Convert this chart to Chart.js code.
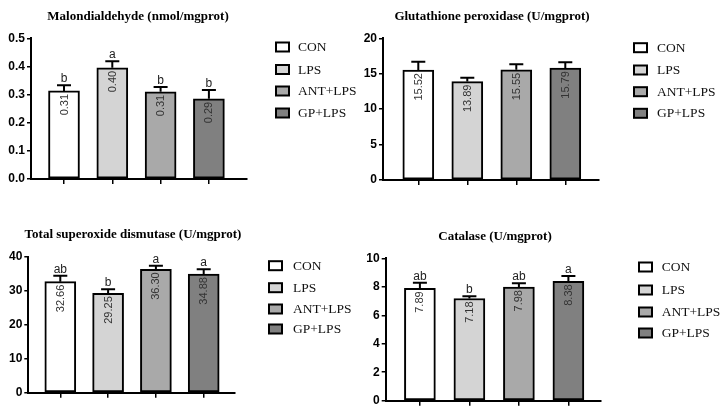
<!DOCTYPE html>
<html>
<head>
<meta charset="utf-8">
<script src="https://cdn.jsdelivr.net/npm/chart.js@4.4.1/dist/chart.umd.min.js"></script>
<style>
  html, body { margin: 0; padding: 0; background: #ffffff; }
  #wrap { position: relative; width: 728px; height: 415px; overflow: hidden; }
  .panel { position: absolute; }
</style>
</head>
<body>
<div id="wrap">
  <div class="panel" style="left:0px;top:0px;"><canvas id="c1" width="364" height="208"></canvas></div>
  <div class="panel" style="left:364px;top:0px;"><canvas id="c2" width="364" height="208"></canvas></div>
  <div class="panel" style="left:0px;top:208px;"><canvas id="c3" width="364" height="207"></canvas></div>
  <div class="panel" style="left:364px;top:208px;"><canvas id="c4" width="364" height="207"></canvas></div>
</div>
<script>
// ---------------- DATA ----------------
const groups = ['CON', 'LPS', 'ANT+LPS', 'GP+LPS'];
const groupColors = ['#ffffff', '#d4d4d4', '#a9a9a9', '#808080'];

const mdaTitle = 'Malondialdehyde (nmol/mgprot)';
const mdaValues = [0.313, 0.395, 0.310, 0.285];
const mdaErrors = [0.020, 0.023, 0.017, 0.031];
const mdaLabels = ['0.31', '0.40', '0.31', '0.29'];
const mdaLetters = ['b', 'a', 'b', 'b'];
const mdaTicks = [0.0, 0.1, 0.2, 0.3, 0.4, 0.5];

const gpxTitle = 'Glutathione peroxidase (U/mgprot)';
const gpxValues = [15.52, 13.89, 15.55, 15.79];
const gpxErrors = [1.18, 0.55, 0.78, 0.82];
const gpxLabels = ['15.52', '13.89', '15.55', '15.79'];
const gpxLetters = ['', '', '', ''];
const gpxTicks = [0, 5, 10, 15, 20];

const sodTitle = 'Total superoxide dismutase (U/mgprot)';
const sodValues = [32.66, 29.25, 36.30, 34.88];
const sodErrors = [1.75, 1.16, 1.05, 1.41];
const sodLabels = ['32.66', '29.25', '36.30', '34.88'];
const sodLetters = ['ab', 'b', 'a', 'a'];
const sodTicks = [0, 10, 20, 30, 40];

const catTitle = 'Catalase (U/mgprot)';
const catValues = [7.89, 7.18, 7.98, 8.38];
const catErrors = [0.40, 0.15, 0.26, 0.38];
const catLabels = ['7.89', '7.18', '7.98', '8.38'];
const catLetters = ['ab', 'b', 'ab', 'a'];
const catTicks = [0, 2, 4, 6, 8, 10];

// ---------------- LAYOUT (per panel, local px) ----------------
const layouts = [
  { axisX: 31, xEnd: 247, top: 38.3, zero: 179, c0: 64, step: 48.3, titleX: 138, titleY: 17,
    legBoxX: 276, legTextX: 298, legRows: [47, 69.5, 91, 113], decimals: 1 },
  { axisX: 19, xEnd: 235, top: 38.3, zero: 180, c0: 54.3, step: 49, titleX: 128, titleY: 17,
    legBoxX: 270, legTextX: 293, legRows: [47.7, 70, 91.7, 113.3], decimals: 0 },
  { axisX: 28.3, xEnd: 235, top: 48.7, zero: 184.7, c0: 60.3, step: 47.8, titleX: 133, titleY: 27,
    legBoxX: 269, legTextX: 293, legRows: [57.7, 79.7, 101, 121], decimals: 0 },
  { axisX: 21.7, xEnd: 237, top: 50.3, zero: 192.7, c0: 55.9, step: 49.5, titleX: 131, titleY: 28.7,
    legBoxX: 275, legTextX: 297.7, legRows: [59, 82, 104, 125], decimals: 0 }
];

const annotate = {
  id: 'annotate',
  afterDatasetsDraw(chart) {
    const o = chart.options.plugins.annotate;
    const ctx = chart.ctx;
    const xs = chart.scales.x, ys = chart.scales.y;
    const ds = chart.data.datasets[0];
    ctx.save();
    ds.data.forEach((pt, i) => {
      const x = xs.getPixelForValue(pt.x);
      const yTop = ys.getPixelForValue(pt.y);
      const yErr = ys.getPixelForValue(pt.y + o.errors[i]);
      // error bar (upper only)
      ctx.strokeStyle = '#000';
      ctx.lineWidth = 2;
      ctx.beginPath();
      ctx.moveTo(x, yTop);
      ctx.lineTo(x, yErr);
      ctx.moveTo(x - 7, yErr);
      ctx.lineTo(x + 7, yErr);
      ctx.stroke();
      // letter
      if (o.letters[i]) {
        ctx.fillStyle = '#222';
        ctx.font = '12px "Liberation Sans", Arial, sans-serif';
        ctx.textAlign = 'center';
        ctx.textBaseline = 'alphabetic';
        ctx.fillText(o.letters[i], x, yErr - 3);
      }
      // rotated value label
      ctx.save();
      ctx.translate(x, yTop + 3);
      ctx.rotate(-Math.PI / 2);
      ctx.fillStyle = '#333';
      ctx.font = '11px "Liberation Sans", Arial, sans-serif';
      ctx.textAlign = 'right';
      ctx.textBaseline = 'middle';
      ctx.fillText(o.labels[i], 0, 0.5);
      ctx.restore();
    });
    // title
    ctx.fillStyle = '#000';
    ctx.font = 'bold 13px "Liberation Serif", "Times New Roman", serif';
    ctx.textAlign = 'center';
    ctx.textBaseline = 'middle';
    ctx.fillText(o.title, o.L.titleX, o.L.titleY);
    // legend
    groups.forEach((g, i) => {
      const yc = o.L.legRows[i];
      ctx.fillStyle = groupColors[i];
      ctx.fillRect(o.L.legBoxX, yc - 4.5, 13, 9);
      ctx.strokeStyle = '#000';
      ctx.lineWidth = 2;
      ctx.strokeRect(o.L.legBoxX, yc - 4.5, 13, 9);
      ctx.fillStyle = '#111';
      ctx.font = '13.5px "Liberation Serif", "Times New Roman", serif';
      ctx.textAlign = 'left';
      ctx.textBaseline = 'middle';
      ctx.fillText(g, o.L.legTextX, yc + 0.5);
    });
    ctx.restore();
  }
};

function makePanel(id, L, title, values, errors, labels, letters, ticks) {
  const W = 364;
  const canvas = document.getElementById(id);
  const H = canvas.height;
  const xmin = (L.axisX - L.c0) / L.step;
  const xmax = (L.xEnd - L.c0) / L.step;
  new Chart(canvas, {
    type: 'bar',
    data: {
      datasets: [{
        data: values.map((v, i) => ({ x: i, y: v })),
        backgroundColor: groupColors,
        borderColor: '#000',
        borderWidth: 2,
        borderSkipped: false,
        barThickness: 31
      }]
    },
    options: {
      responsive: false,
      devicePixelRatio: 1,
      animation: false,
      layout: { padding: { left: 0, top: L.top, right: W - L.xEnd, bottom: 0 } },
      plugins: {
        legend: { display: false },
        tooltip: { enabled: false },
        title: { display: false },
        annotate: { L, title, errors, labels, letters }
      },
      scales: {
        x: {
          type: 'linear',
          offset: false,
          min: xmin,
          max: xmax,
          afterBuildTicks: (s) => { s.ticks = groups.map((g, i) => ({ value: i })); },
          afterFit: (s) => { s.height = H - L.zero; },
          ticks: { display: false },
          grid: { display: true, offset: false, drawOnChartArea: false, drawTicks: true, tickLength: 5, lineWidth: 1.5, color: '#000' },
          border: { display: true, color: '#000', width: 2 }
        },
        y: {
          min: ticks[0],
          max: ticks[ticks.length - 1],
          afterBuildTicks: (s) => { s.ticks = ticks.map(v => ({ value: v })); },
          afterFit: (s) => { s.width = L.axisX; },
          ticks: {
            padding: 2,
            color: '#000',
            font: { family: '"Liberation Sans", Arial, sans-serif', size: 12, weight: 'bold' },
            callback: (v) => Number(v).toFixed(L.decimals)
          },
          grid: { display: true, drawOnChartArea: false, drawTicks: true, tickLength: 4, lineWidth: 1.5, color: '#000' },
          border: { display: true, color: '#000', width: 2 }
        }
      }
    },
    plugins: [annotate]
  });
}

makePanel('c1', layouts[0], mdaTitle, mdaValues, mdaErrors, mdaLabels, mdaLetters, mdaTicks);
makePanel('c2', layouts[1], gpxTitle, gpxValues, gpxErrors, gpxLabels, gpxLetters, gpxTicks);
makePanel('c3', layouts[2], sodTitle, sodValues, sodErrors, sodLabels, sodLetters, sodTicks);
makePanel('c4', layouts[3], catTitle, catValues, catErrors, catLabels, catLetters, catTicks);
</script>
</body>
</html>
